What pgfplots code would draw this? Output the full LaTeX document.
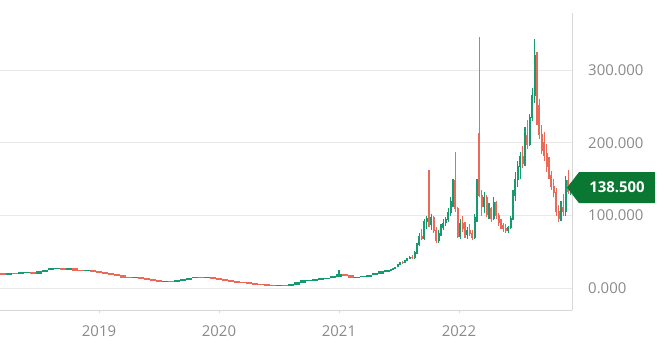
\documentclass[border=0pt]{standalone}
\usepackage{fontspec}
\setmainfont{Open Sans}
\usepackage{pgfplots}
\usepackage{pgfplotstable}
\pgfplotsset{compat=1.18}
\definecolor{upc}{RGB}{24,154,112}
\definecolor{dnc}{RGB}{238,104,88}
\definecolor{tagc}{RGB}{10,120,50}
\definecolor{labc}{RGB}{138,138,138}
\definecolor{gridc}{RGB}{232,232,232}
\definecolor{axc}{RGB}{215,215,215}

\pgfplotstableread{
x o h l c
2018.15 20.0 21.1 19.4 20.5
2018.25 19.5 21.4 18.9 20.8
2018.35 20.0 22.1 19.4 21.5
2018.40 21.5 22.6 20.9 22.0
2018.50 21.0 24.1 20.4 23.5
2018.55 23.5 26.1 22.9 25.5
2018.60 25.5 27.6 24.9 27.0
2018.65 27.0 28.4 26.4 27.8
2018.75 26.5 27.6 25.9 27.0
2018.90 24.0 25.4 23.4 24.8
2019.30 14.5 15.6 13.9 15.0
2019.55 9.5 10.9 8.9 10.3
2019.65 9.0 11.6 8.4 11.0
2019.70 11.0 13.1 10.4 12.5
2019.75 12.5 15.1 11.9 14.5
2019.80 14.5 16.1 13.9 15.5
2019.90 14.8 16.1 14.2 15.5
2020.50 3.8 5.1 3.2 4.5
2020.60 3.8 6.1 3.2 5.5
2020.65 5.5 8.6 4.9 8.0
2020.70 8.0 11.1 7.4 10.5
2020.75 10.5 12.1 9.9 11.5
2020.80 11.5 13.4 10.9 12.8
2020.85 12.8 14.1 12.2 13.5
2020.90 13.5 15.1 12.9 14.5
2020.95 14.5 16.6 13.9 16.0
2021.00 16.0 26.0 15.4 19.5
2021.15 15.0 16.4 14.4 15.8
2021.20 15.8 17.6 15.2 17.0
2021.25 17.0 19.1 16.4 18.5
2021.30 18.5 21.1 17.9 20.5
2021.35 20.5 23.6 19.9 23.0
2021.40 23.0 25.1 22.4 24.5
}\flatG

\pgfplotstableread{
x o h l c
2018.20 20.5 21.1 18.9 19.5
2018.30 20.8 21.4 19.4 20.0
2018.45 22.0 22.6 20.4 21.0
2018.70 27.8 28.4 25.9 26.5
2018.80 27.0 27.6 24.4 25.0
2018.85 25.0 25.6 23.4 24.0
2018.95 24.8 25.4 22.9 23.5
2019.00 23.5 24.1 21.9 22.5
2019.05 22.5 23.1 20.4 21.0
2019.10 21.0 21.6 18.4 19.0
2019.15 19.0 19.6 16.9 17.5
2019.20 17.5 18.1 14.9 15.5
2019.25 15.5 16.1 13.9 14.5
2019.35 15.0 15.6 12.9 13.5
2019.40 13.5 14.1 11.9 12.5
2019.45 12.5 13.1 9.9 10.5
2019.50 10.5 11.1 8.9 9.5
2019.60 10.3 10.9 8.4 9.0
2019.85 15.5 16.1 14.2 14.8
2019.95 15.5 16.1 13.4 14.0
2020.00 14.0 14.6 11.9 12.5
2020.05 12.5 13.1 10.4 11.0
2020.10 11.0 11.6 8.9 9.5
2020.15 9.5 10.1 7.9 8.5
2020.20 8.5 9.1 7.4 8.0
2020.25 8.0 8.6 6.4 7.0
2020.30 7.0 7.6 5.2 5.8
2020.35 5.8 6.4 4.4 5.0
2020.40 5.0 5.6 3.6 4.2
2020.45 4.2 4.8 3.2 3.8
2020.55 4.5 5.1 3.2 3.8
2021.05 19.5 20.1 16.9 17.5
2021.10 17.5 18.1 14.4 15.0
}\flatR

\pgfplotstableread{
x o h l c
2021.43 24.5 26.5 24.0 26.0
2021.45 26.0 28.5 25.5 28.0
2021.47 28.0 30.0 27.0 29.5
2021.49 29.5 33.0 29.0 32.5
2021.51 32.5 37.0 32.0 36.0
2021.55 35.0 39.0 34.5 38.5
2021.57 38.5 42.0 38.0 41.0
2021.59 41.0 44.0 40.0 43.0
2021.63 42.0 52.0 41.0 50.0
2021.65 50.0 62.0 48.0 60.0
2021.67 60.0 76.0 58.0 72.0
2021.71 68.0 96.0 66.0 92.0
2021.73 92.0 100.0 82.0 96.0
2021.77 88.0 102.0 80.0 98.0
2021.83 66.0 80.0 62.0 76.0
2021.85 76.0 88.0 72.0 84.0
2021.87 84.0 96.0 80.0 90.0
2021.89 90.0 98.0 86.0 95.0
2021.91 95.0 110.0 92.0 104.0
2021.93 104.0 125.0 100.0 120.0
2021.95 120.0 150.0 112.0 148.0
2022.01 72.0 95.0 68.0 90.0
2022.07 74.0 84.0 68.0 80.0
2022.13 70.0 102.0 68.0 98.0
2022.15 98.0 150.0 92.0 145.0
2022.21 112.0 132.0 104.0 125.0
2022.25 102.0 118.0 96.0 110.0
2022.29 96.0 125.0 94.0 118.0
2022.41 80.0 86.0 76.0 84.0
2022.43 84.0 100.0 82.0 96.0
2022.45 96.0 135.0 94.0 128.0
2022.47 128.0 160.0 120.0 150.0
2022.49 150.0 175.0 140.0 168.0
2022.51 168.0 188.0 150.0 182.0
2022.55 172.0 222.0 168.0 210.0
2022.59 198.0 240.0 195.0 235.0
2022.61 235.0 275.0 230.0 265.0
2022.63 265.0 342.0 255.0 320.0
2022.85 96.0 120.0 93.0 112.0
2022.89 105.0 155.0 100.0 148.0
2022.93 133.0 145.0 128.0 138.5
}\wkG

\pgfplotstableread{
x o h l c
2021.53 36.0 38.0 34.0 35.0
2021.61 43.0 46.0 41.0 42.0
2021.69 72.0 82.0 66.0 68.0
2021.75 100.0 163.0 84.0 88.0
2021.79 98.0 100.0 76.0 80.0
2021.81 80.0 84.0 62.0 66.0
2021.97 148.0 188.0 105.0 110.0
2021.99 110.0 112.0 70.0 72.0
2022.03 90.0 100.0 78.0 82.0
2022.05 82.0 92.0 70.0 74.0
2022.09 80.0 88.0 72.0 76.0
2022.11 76.0 80.0 66.0 70.0
2022.17 213.0 346.0 125.0 128.0
2022.19 128.0 135.0 100.0 112.0
2022.23 125.0 128.0 98.0 102.0
2022.27 110.0 112.0 92.0 96.0
2022.31 118.0 120.0 96.0 100.0
2022.33 100.0 104.0 86.0 90.0
2022.35 90.0 96.0 82.0 86.0
2022.37 86.0 90.0 78.0 82.0
2022.39 82.0 88.0 76.0 80.0
2022.53 182.0 195.0 165.0 172.0
2022.57 210.0 232.0 192.0 198.0
2022.65 320.0 325.0 225.0 235.0
2022.67 252.0 260.0 205.0 212.0
2022.69 212.0 225.0 185.0 190.0
2022.71 200.0 215.0 175.0 182.0
2022.73 185.0 198.0 160.0 168.0
2022.75 170.0 180.0 150.0 155.0
2022.77 155.0 162.0 135.0 140.0
2022.79 140.0 150.0 125.0 132.0
2022.81 132.0 138.0 100.0 106.0
2022.83 106.0 115.0 92.0 96.0
2022.87 112.0 130.0 100.0 105.0
2022.91 148.0 163.0 130.0 133.0
}\wkR

\newcommand{\candles}[3]{%
\addplot[draw=none, mark=none, forget plot,
  error bars/.cd, y dir=plus, y explicit, error mark=none,
  error bar style={draw=#2, line width=1.3bp}]
  table[x=x, y=l, y error plus expr={\thisrow{h}-\thisrow{l}}] {#1};
\addplot[draw=none, mark=none, forget plot,
  error bars/.cd, y dir=plus, y explicit, error mark=none,
  error bar style={draw=#2, line width=#3}]
  table[x=x, y expr={min(\thisrow{o},\thisrow{c})-0.6},
        y error plus expr={abs(\thisrow{c}-\thisrow{o})+1.2}] {#1};
}

\begin{document}
\begin{tikzpicture}
\path[use as bounding box] (0,-41bp) rectangle (664bp,310bp);
\begin{axis}[
  at={(0,0)}, anchor=south west,
  scale only axis, width=572bp, height=297bp,
  xmin=2018.175, xmax=2022.942, ymin=-29.5, ymax=378.3,
  axis x line*=bottom, axis y line*=right,
  axis line style={draw=axc, line width=0.8bp, -},
  xtick={2019,2020,2021,2022}, xticklabels={2019,2020,2021,2022},
  ytick={0,100,200,300}, yticklabels={0.000,100.000,200.000,300.000},
  ymajorgrids, grid style={draw=gridc, line width=0.8bp},
  ytick style={draw=none},
  xtick style={draw=axc, line width=0.8bp},
  tick align=outside, major tick length=3bp,
  ticklabel style={font=\fontsize{15}{15}\selectfont, text=labc, inner sep=0pt},
  yticklabel style={xshift=13bp},
  xticklabel style={yshift=-12bp},
]
\candles{\flatG}{upc}{6bp}
\candles{\flatR}{dnc}{6bp}
\candles{\wkG}{upc}{2.1bp}
\candles{\wkR}{dnc}{2.1bp}
\coordinate (tip) at (axis cs:2022.942,138.5);
\end{axis}
\fill[tagc] ([xshift=-5bp]tip) -- ++(12bp,15.5bp) -- ++(76bp,0) -- ++(0,-31bp) -- ++(-76bp,0) -- cycle;
\node[text=white, font=\bfseries\fontsize{15}{15}\selectfont, inner sep=0pt] at ([xshift=45bp]tip) {138.500};
\end{tikzpicture}
\end{document}
